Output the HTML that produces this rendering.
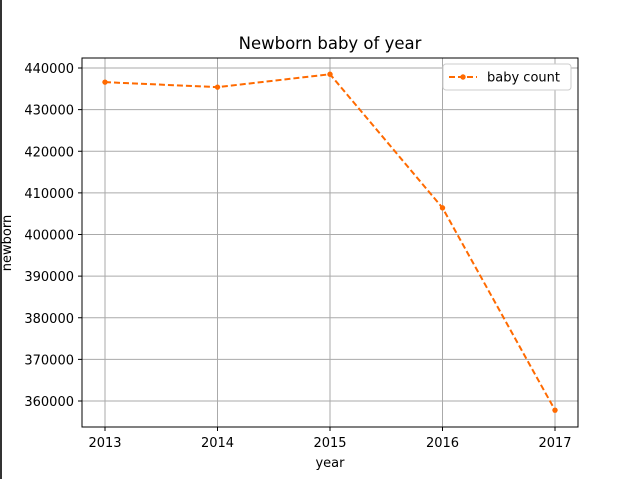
<!DOCTYPE html>
<html><head><meta charset="utf-8"><style>
html,body{margin:0;padding:0;background:#fff;}
svg{display:block;font-family:"DejaVu Sans","Liberation Sans",sans-serif;}
</style></head><body>
<svg id="chart" width="641" height="479">
<rect x="0" y="0" width="2" height="479" fill="#333"/>
<text x="330" y="49" font-size="16.5" text-anchor="middle">Newborn baby of year</text>
<g id="grid"></g><g id="ticks"></g>
<rect x="82" y="58" width="496" height="369" fill="none" stroke="#000" stroke-width="1"/>
<g id="series"></g>
<text x="330" y="467" font-size="13" text-anchor="middle">year</text>
<text transform="translate(11,243) rotate(-90)" font-size="13" text-anchor="middle">newborn</text>
<g>
<rect x="443" y="64" width="128" height="26" rx="3" fill="#fff" stroke="#ccc"/>
<line x1="449" y1="77" x2="477" y2="77" stroke="#ff6a00" stroke-width="2" stroke-dasharray="6,3"/>
<circle cx="463" cy="77" r="2.7" fill="#ff6a00"/>
<text x="487" y="81.5" font-size="13">baby count</text>
</g>
</svg>
<script>
const years=[2013,2014,2015,2016,2017];
const counts=[436600,435400,438500,406400,357800];
const yTicks=[360000,370000,380000,390000,400000,410000,420000,430000,440000];
const NS="http://www.w3.org/2000/svg";
function xS(v){return 105+(v-2013)*112.5;}
function yS(v){return 68+(440000-v)*333/80000;}
function mk(t,a,p){const e=document.createElementNS(NS,t);for(const k in a)e.setAttribute(k,a[k]);p.appendChild(e);return e;}
const grid=document.getElementById('grid'),ticks=document.getElementById('ticks'),ser=document.getElementById('series');
years.forEach(y=>{
 const g=mk('line',{x1:xS(y),x2:xS(y),y1:58,y2:427,stroke:'#aaa','stroke-width':1},grid);
 
 
 const t=mk('line',{x1:xS(y),x2:xS(y),y1:427,y2:431,stroke:'#000'},ticks);
 
 
 const l=mk('text',{x:xS(y),y:447,'font-size':13,'text-anchor':'middle'},ticks);l.textContent=y;
 
 
});
yTicks.forEach(v=>{
 const g=mk('line',{x1:82,x2:578,y1:yS(v),y2:yS(v),stroke:'#aaa','stroke-width':1},grid);
 
 
 const t=mk('line',{x1:78,x2:82,y1:yS(v),y2:yS(v),stroke:'#000'},ticks);
 
 
 const l=mk('text',{x:74,y:yS(v)+5,'font-size':13,'text-anchor':'end'},ticks);l.textContent=v;
 
 
});
const pts=years.map((y,i)=>xS(y)+','+yS(counts[i])).join(' ');
const pl=mk('polyline',{points:pts,fill:'none',stroke:'#ff6a00','stroke-width':2,'stroke-dasharray':'6,3'},ser);


years.forEach((y,i)=>{
 const c=mk('circle',{cx:xS(y),cy:yS(counts[i]),r:2.7,fill:'#ff6a00'},ser);
 
 
});
</script>
</body></html>
